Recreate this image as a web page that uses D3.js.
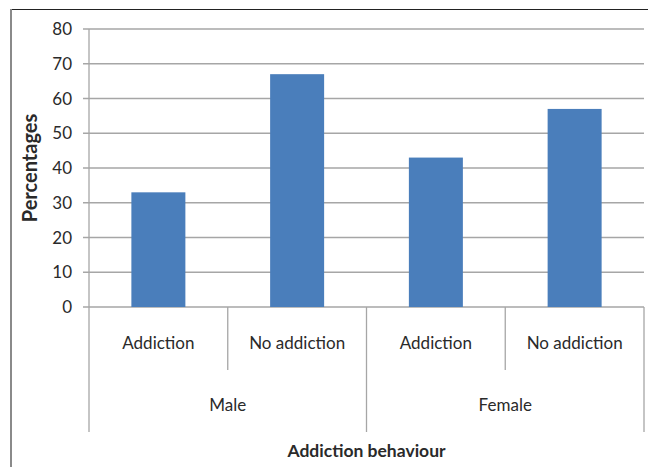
<!DOCTYPE html>
<html>
<head>
<meta charset="utf-8">
<script src="https://cdn.jsdelivr.net/npm/d3@7"></script>
<style>
  body { margin: 0; background: #fff; }
  svg text { font-family: Lato, "Open Sans", sans-serif; fill: #2a2a2a; }
</style>
</head>
<body>
<div id="chart"></div>
<script>
'use strict';

// data
const groups = ['Male', 'Female'];
const categories = ['Addiction', 'No addiction', 'Addiction', 'No addiction'];
const categoryGroup = ['Male', 'Male', 'Female', 'Female'];
const values = [33, 67, 43, 57];
const yTicks = [0, 10, 20, 30, 40, 50, 60, 70, 80];

const W = 651, H = 467;
const plot = { left: 89, right: 644, top: 29, bottom: 307 };

const svg = d3.select('#chart').append('svg')
  .attr('width', W).attr('height', H);

// frame: dark top, grey left
svg.append('line').attr('x1', 11).attr('x2', 648).attr('y1', 9.5).attr('y2', 9.5)
  .attr('stroke', '#222').attr('stroke-width', 1.2);
svg.append('line').attr('x1', 11).attr('x2', 11).attr('y1', 9).attr('y2', H)
  .attr('stroke', '#8a8a8a').attr('stroke-width', 2);

const x = d3.scaleBand()
  .domain(d3.range(categories.length))
  .range([plot.left, plot.right])
  .paddingInner(0).paddingOuter(0);

const y = d3.scaleLinear().domain([0, 80]).range([plot.bottom, plot.top]);

// gridlines
svg.append('g').selectAll('line').data(yTicks).enter().append('line')
  .attr('x1', plot.left - 6).attr('x2', plot.right)
  .attr('y1', d => y(d)).attr('y2', d => y(d))
  .attr('stroke', '#a6a6a6').attr('stroke-width', 1.3);

// y axis line
svg.append('line').attr('x1', plot.left).attr('x2', plot.left)
  .attr('y1', plot.top).attr('y2', plot.bottom)
  .attr('stroke', '#a6a6a6').attr('stroke-width', 1.3);

// tick labels
svg.append('g').selectAll('text').data(yTicks).enter().append('text')
  .attr('x', 72).attr('y', d => y(d)).attr('dy', '0.36em')
  .attr('text-anchor', 'end').attr('font-size', 17)
  .text(d => d);

// bars
const barW = 54;
svg.append('g').selectAll('rect').data(values).enter().append('rect')
  .attr('x', (d, i) => x(i) + x.bandwidth() / 2 - barW / 2)
  .attr('width', barW)
  .attr('y', d => y(d))
  .attr('height', d => y(0) - y(d))
  .attr('fill', '#4a7ebb');

// category separators (short) and group separators (long)
const bounds = d3.range(categories.length + 1).map(i => plot.left + i * x.bandwidth());
svg.append('g').selectAll('line').data(bounds).enter().append('line')
  .attr('x1', d => d).attr('x2', d => d)
  .attr('y1', plot.bottom)
  .attr('y2', (d, i) => (i % 2 === 0 ? 432 : 370))
  .attr('stroke', '#a6a6a6').attr('stroke-width', 1.3);

// category labels
svg.append('g').selectAll('text').data(categories).enter().append('text')
  .attr('x', (d, i) => x(i) + x.bandwidth() / 2)
  .attr('y', 343).attr('dy', '0.36em')
  .attr('text-anchor', 'middle').attr('font-size', 17)
  .text(d => d);

// group labels
svg.append('g').selectAll('text').data(groups).enter().append('text')
  .attr('x', g => {
    const idx = categoryGroup.map((c, i) => c === g ? i : -1).filter(i => i >= 0);
    return (x(idx[0]) + x(idx[idx.length - 1]) + x.bandwidth()) / 2;
  })
  .attr('y', 405).attr('dy', '0.36em')
  .attr('text-anchor', 'middle').attr('font-size', 17)
  .text(d => d);

// axis titles
svg.append('text')
  .attr('x', (plot.left + plot.right) / 2).attr('y', 451).attr('dy', '0.36em')
  .attr('text-anchor', 'middle').attr('font-size', 17.5).attr('font-weight', 'bold')
  .text('Addiction behaviour');

svg.append('text')
  .attr('transform', `translate(30, 168) rotate(-90)`)
  .attr('dy', '0.36em')
  .attr('text-anchor', 'middle').attr('font-size', 20).attr('font-weight', 'bold')
  .text('Percentages');
</script>
</body>
</html>
